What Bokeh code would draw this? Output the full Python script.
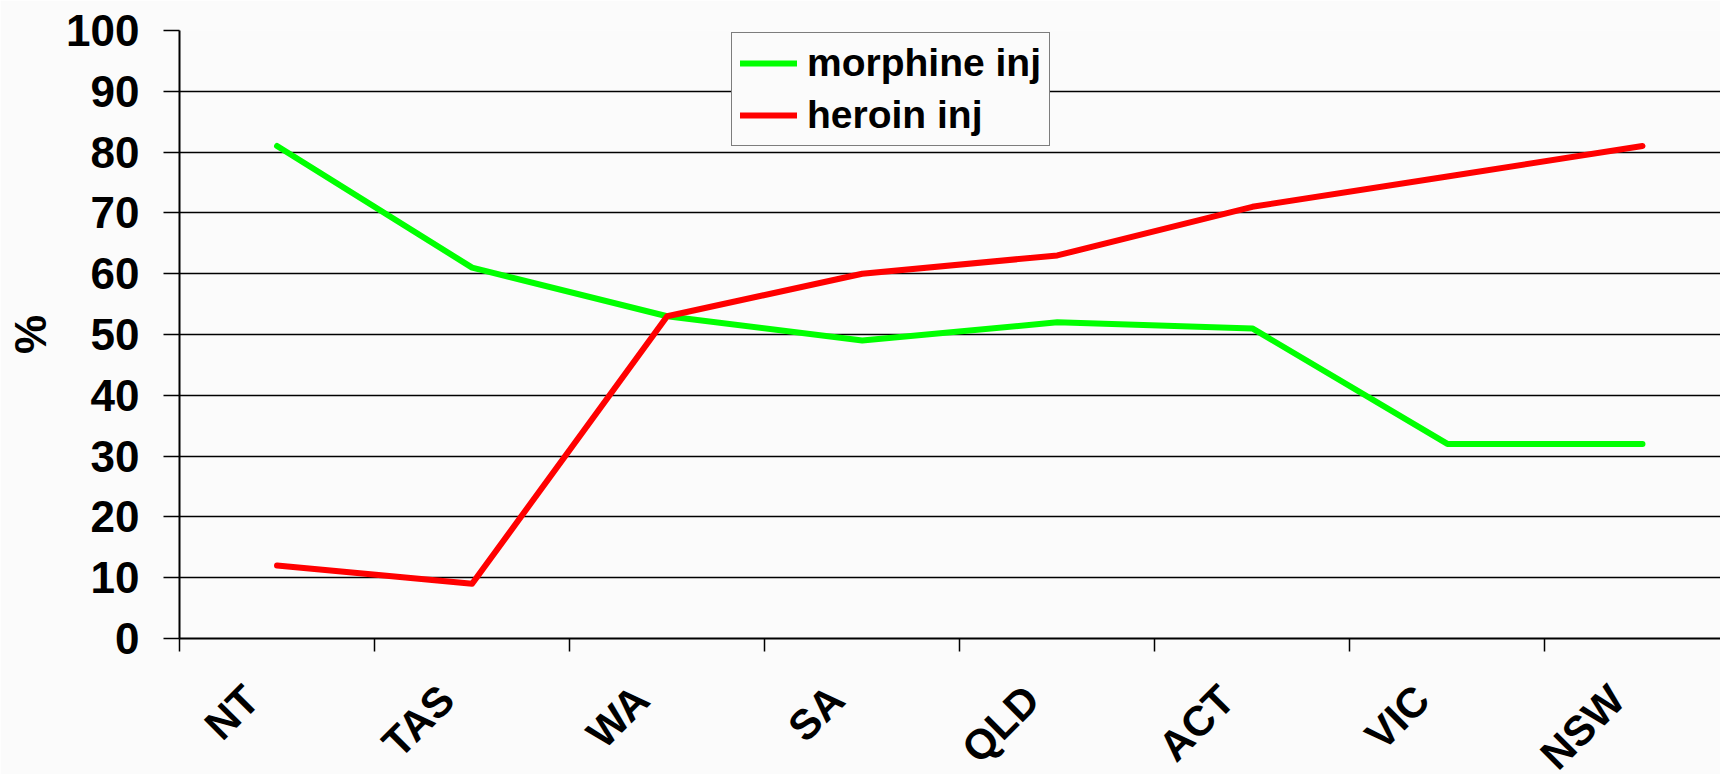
from math import pi
from bokeh.plotting import figure
from bokeh.models import Range1d, FixedTicker, Legend, LegendItem
from bokeh.embed import file_html
from bokeh.resources import INLINE

states = ["NT", "TAS", "WA", "SA", "QLD", "ACT", "VIC", "NSW"]
morphine_inj = [81, 61, 53, 49, 52, 51, 32, 32]
heroin_inj = [12, 9, 53, 60, 63, 71, 76, 81]
y_ticks = [0, 10, 20, 30, 40, 50, 60, 70, 80, 90, 100]

xs = [i + 0.5 for i in range(len(states))]
label_pos = [x - 0.13 for x in xs]
BG = "#fbfbfb"
FONT = "Liberation Sans"

p = figure(frame_width=1541, frame_height=608,
           x_range=Range1d(0, 7.9), y_range=Range1d(0, 100),
           output_backend="svg", toolbar_location=None,
           min_border_left=179, min_border_right=0, min_border_top=30,
           min_border_bottom=100,
           background_fill_color=BG, border_fill_color=BG,
           outline_line_color=None)

# grid
p.xgrid.visible = False
p.ygrid.ticker = FixedTicker(ticks=y_ticks)
p.ygrid.grid_line_color = "black"
p.ygrid.grid_line_width = 1.5

# y axis
ya = p.yaxis[0]
ya.ticker = FixedTicker(ticks=y_ticks)
ya.major_tick_out = 16
ya.major_tick_in = 0
ya.major_tick_line_width = 1.5
ya.minor_tick_line_color = None
ya.axis_line_width = 2
ya.major_label_standoff = 24
ya.major_label_text_font = FONT
ya.major_label_text_font_style = "bold"
ya.major_label_text_font_size = "44px"
ya.major_label_text_color = "black"
ya.axis_label = "%"
ya.axis_label_text_font = FONT
ya.axis_label_text_font_style = "bold"
ya.axis_label_text_font_size = "44px"
ya.axis_label_text_color = "black"
ya.axis_label_standoff = 8

# x axis: boundary ticks as minor ticks, category names as labels
xa = p.xaxis[0]
xa.ticker = FixedTicker(ticks=label_pos, minor_ticks=list(range(len(states) + 1)))
xa.major_label_overrides = {x: s for x, s in zip(label_pos, states)}
xa.major_tick_line_color = None
xa.major_tick_in = 0
xa.major_tick_out = 0
xa.minor_tick_line_color = "black"
xa.minor_tick_line_width = 1.5
xa.minor_tick_in = 0
xa.minor_tick_out = 13
xa.axis_line_width = 2
xa.major_label_orientation = pi / 4
xa.major_label_standoff = 41
xa.major_label_text_font = FONT
xa.major_label_text_font_style = "bold"
xa.major_label_text_font_size = "42px"
xa.major_label_text_color = "black"

g = p.line(xs, morphine_inj, line_color="#00ff00", line_width=6,
           line_cap="round", line_join="round")
r = p.line(xs, heroin_inj, line_color="#ff0000", line_width=6,
           line_cap="round", line_join="round")

legend = Legend(items=[LegendItem(label="morphine inj", renderers=[g]),
                       LegendItem(label="heroin inj", renderers=[r])],
                location=(552, 492), margin=0, padding=8, spacing=8,
                glyph_width=57, glyph_height=30, label_standoff=10,
                label_text_font=FONT, label_text_font_style="bold",
                label_text_font_size="39px", label_text_color="black",
                border_line_color="black", border_line_width=1.5,
                background_fill_color=BG, background_fill_alpha=1)
p.add_layout(legend)

open("out.html", "w").write(file_html(p, INLINE))
